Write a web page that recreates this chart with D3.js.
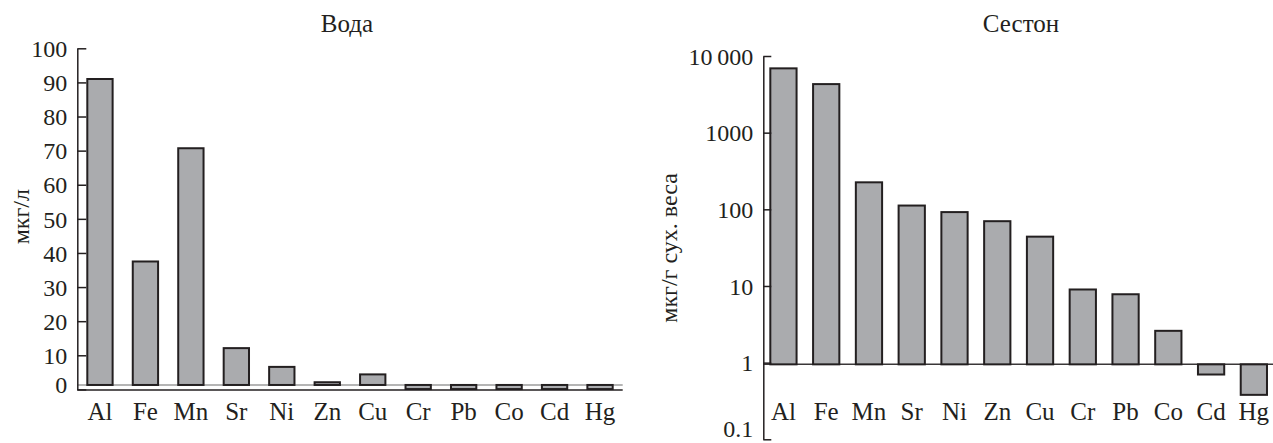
<!DOCTYPE html>
<html>
<head>
<meta charset="utf-8">
<script src="https://cdn.jsdelivr.net/npm/d3@7"></script>
<style>
  body { margin: 0; background: #fff; }
  svg { display: block; }
  text { font-family: "Liberation Serif", "Times New Roman", serif; fill: #231f20; }
</style>
</head>
<body>
<svg id="chart" width="1273" height="443"></svg>
<script>
// data
var elements = ['Al', 'Fe', 'Mn', 'Sr', 'Ni', 'Zn', 'Cu', 'Cr', 'Pb', 'Co', 'Cd', 'Hg'];
var waterValues = [91, 37.5, 70.7, 12.1, 6.6, 2.1, 4.4, 0.1, 0.1, 0.1, 0.1, 0.1];
var sestonValues = [6900, 4300, 225, 112, 92, 70, 44, 9.0, 7.8, 2.6, 0.7, 0.38];
var waterTicks = [0, 10, 20, 30, 40, 50, 60, 70, 80, 90, 100];
var sestonTicks = [0.1, 1, 10, 100, 1000, 10000];

var svg = d3.select('#chart');
var barFill = '#aaabae';
var ink = '#231f20';

// ---------- Вода (linear) ----------
var left = svg.append('g');

var xW = d3.scaleBand().domain(elements).range([77.3, 622.7])
  .paddingInner(0.443).paddingOuter(0.22);
var yW = d3.scaleLinear().domain([0, 100]).range([389.4, 48.3]);
var refW = 1.3;

left.append('text')
  .attr('x', 347).attr('y', 32)
  .attr('text-anchor', 'middle')
  .style('font-size', '25px')
  .text('Вода');

// reference line
left.append('line')
  .attr('x1', 77.3).attr('x2', 622.7)
  .attr('y1', yW(refW)).attr('y2', yW(refW))
  .style('stroke', '#9d9d9d').style('stroke-width', 1.5);

left.selectAll('.bar')
  .data(waterValues)
  .enter()
  .append('rect')
  .attr('class', 'bar')
  .attr('x', (d, i) => xW(elements[i]))
  .attr('width', xW.bandwidth())
  .attr('y', d => yW(Math.max(d, refW)))
  .attr('height', d => Math.abs(yW(d) - yW(refW)))
  .style('fill', barFill)
  .style('stroke', ink)
  .style('stroke-width', 2);

var axW = left.append('g')
  .attr('transform', 'translate(77.3,0)')
  .call(d3.axisLeft(yW).tickValues(waterTicks).tickSizeInner(-9).tickSizeOuter(0).tickPadding(10));
axW.select('.domain').style('stroke', ink).style('stroke-width', 1.5);
axW.selectAll('.tick line').style('stroke', ink).style('stroke-width', 1.5);
axW.selectAll('.tick text')
  .style('font-size', '24px')
  .attr('fill', ink)
  .attr('font-family', null)
  .attr('dy', d => d === 0 ? '0.12em' : '0.34em');

left.append('line')
  .attr('x1', 77.3).attr('x2', 622.7)
  .attr('y1', 390).attr('y2', 390)
  .style('stroke', ink).style('stroke-width', 1.5);

left.selectAll('.xlabel')
  .data(elements)
  .enter()
  .append('text')
  .attr('class', 'xlabel')
  .attr('x', d => xW(d) + xW.bandwidth() / 2)
  .attr('y', 420)
  .attr('text-anchor', 'middle')
  .style('font-size', '25px')
  .text(d => d);

left.append('text')
  .attr('transform', 'translate(29,216.7) rotate(-90)')
  .attr('text-anchor', 'middle')
  .style('font-size', '24px')
  .text('мкг/л');

// ---------- Сестон (log) ----------
var right = svg.append('g');

var xS = d3.scaleBand().domain(elements).range([763.3, 1274])
  .paddingInner(0.386).paddingOuter(0.164);
var yS = d3.scaleLog().domain([0.1, 10000]).range([439.3, 56]);
var refS = 0.95;

right.append('text')
  .attr('x', 1021).attr('y', 32)
  .attr('text-anchor', 'middle')
  .style('font-size', '25px')
  .text('Сестон');

right.append('line')
  .attr('x1', 763.3).attr('x2', 1273)
  .attr('y1', yS(refS)).attr('y2', yS(refS))
  .style('stroke', '#3a3738').style('stroke-width', 1.5);

right.selectAll('.bar')
  .data(sestonValues)
  .enter()
  .append('rect')
  .attr('class', 'bar')
  .attr('x', (d, i) => xS(elements[i]))
  .attr('width', xS.bandwidth())
  .attr('y', d => yS(Math.max(d, refS)))
  .attr('height', d => Math.abs(yS(d) - yS(refS)))
  .style('fill', barFill)
  .style('stroke', ink)
  .style('stroke-width', 2);

var fmtS = d => d >= 10000 ? '10\u2009000' : (d < 1 ? '0.1' : String(d));
var axS = right.append('g')
  .attr('transform', 'translate(763.3,0)')
  .call(d3.axisLeft(yS).tickValues(sestonTicks).tickFormat(fmtS).tickSizeInner(-8).tickSizeOuter(0).tickPadding(10));
axS.select('.domain').style('stroke', ink).style('stroke-width', 1.5);
axS.selectAll('.tick line').style('stroke', ink).style('stroke-width', 1.5);
axS.selectAll('.tick text')
  .style('font-size', '24px')
  .attr('fill', ink)
  .attr('font-family', null)
  .attr('dy', d => d < 1 ? '-0.12em' : '0.34em');

right.selectAll('.xlabel')
  .data(elements)
  .enter()
  .append('text')
  .attr('class', 'xlabel')
  .attr('x', d => xS(d) + xS.bandwidth() / 2)
  .attr('y', 420)
  .attr('text-anchor', 'middle')
  .style('font-size', '25px')
  .text(d => d);

right.append('text')
  .attr('transform', 'translate(677,248) rotate(-90)')
  .attr('text-anchor', 'middle')
  .style('font-size', '24px')
  .text('мкг/г сух. веса');
</script>
</body>
</html>
